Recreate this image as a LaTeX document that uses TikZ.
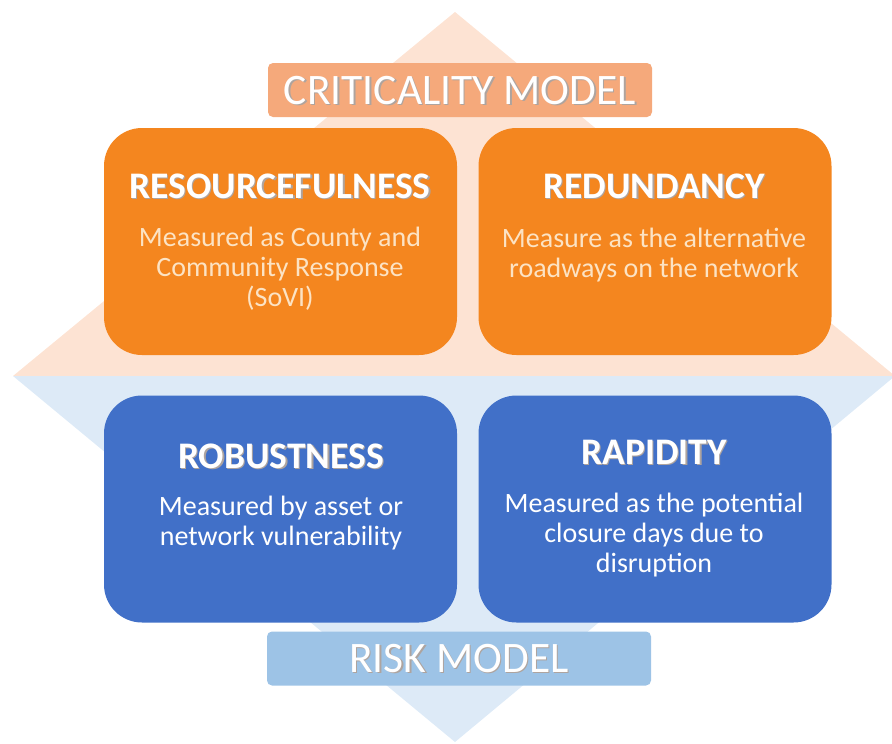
\documentclass[tikz,border=0pt]{standalone}
\usepackage{fontspec}
\setmainfont{Carlito}
\definecolor{peachbg}{HTML}{FDE3D3}
\definecolor{bluebg}{HTML}{DDEAF7}
\definecolor{orangebox}{HTML}{F4861F}
\definecolor{bluebox}{HTML}{4170C8}
\definecolor{peachlabel}{HTML}{F5A97B}
\definecolor{bluelabel}{HTML}{9DC3E6}
\definecolor{creamtext}{HTML}{FCE3C4}
\definecolor{shadowgray}{HTML}{6B5A50}
\newcommand{\shtext}[1]{\makebox[0pt][l]{\raisebox{-1.4pt}{\hspace{1.4pt}\textcolor{shadowgray!55}{#1}}}#1}
\tikzset{
  quad/.style={rounded corners=38pt, minimum width=353pt, minimum height=227pt, inner sep=0pt},
  obox/.style={quad, fill=orangebox},
  bbox/.style={quad, fill=bluebox},
  label/.style={rounded corners=5pt, minimum width=384pt, minimum height=54pt, inner sep=0pt},
  titletext/.style={text=white, font=\fontsize{37.5}{42}\selectfont\bfseries, inner sep=0pt},
  bodytext/.style={align=center, font=\fontsize{28}{30}\selectfont, inner sep=0pt},
  labtext/.style={text=white, font=\fontsize{43.5}{48}\selectfont, inner sep=0pt}
}
\begin{document}
\begin{tikzpicture}[x=1pt,y=-1pt]
\useasboundingbox (0,0) rectangle (892,744);
% diamond background
\fill[peachbg] (13,376) -- (455,12) -- (895,376) -- cycle;
\fill[bluebg] (13,376) -- (895,376) -- (455,742) -- cycle;
% labels
\node[label, fill=peachlabel] (critbox) at (460,90) {};
\node[labtext] (crit) at (460,91) {\shtext{CRITICALITY MODEL}};
\node[label, fill=bluelabel] (riskbox) at (459,658.5) {};
\node[labtext] (risk) at (459,659) {\shtext{RISK MODEL}};
% quadrants
\node[obox] (res) at (280.5,241.5) {};
\node[obox] (red) at (655,241.5) {};
\node[bbox] (rob) at (280.5,509) {};
\node[bbox] (rap) at (655,509) {};
% texts
\node[titletext] (restitle) at (280,187) {\shtext{RESOURCEFULNESS}};
\node[bodytext, text=creamtext] (resbody) at (280,269) {Measured as County and\\Community Response\\(SoVI)};
\node[titletext] (redtitle) at (654,187) {\shtext{REDUNDANCY}};
\node[bodytext, text=creamtext] (redbody) at (654,255) {Measure as the alternative\\roadways on the network};
\node[titletext] (robtitle) at (281,457) {\shtext{ROBUSTNESS}};
\node[bodytext, text=white] (robbody) at (281,523) {Measured by asset or\\network vulnerability};
\node[titletext] (raptitle) at (654,453) {\shtext{RAPIDITY}};
\node[bodytext, text=white] (rapbody) at (654,535) {Measured as the potential\\closure days due to\\disruption};
\end{tikzpicture}
\end{document}
